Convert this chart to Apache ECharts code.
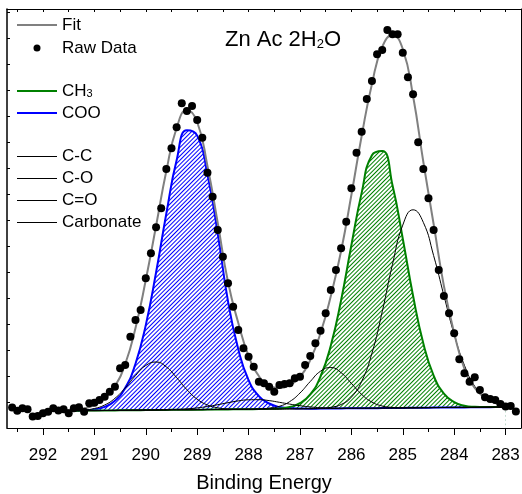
<!DOCTYPE html>
<html><head><meta charset="utf-8">
<script src="https://cdn.jsdelivr.net/npm/echarts@6/dist/echarts.min.js"></script>
<style>html,body{margin:0;padding:0;background:#fff}#c{width:522px;height:494px}</style>
</head><body><div id="c"></div>
<script>
// ---- data (binding energy in eV, intensity in a.u.) ----
const fitEnergy = [292.0,291.8,291.6,291.4,291.2,291.0,290.8,290.6,290.4,290.2,290.0,289.8,289.6,289.4,289.2,289.0,288.8,288.6,288.4,288.2,288.0,287.8,287.6,287.4,287.2,287.0,286.8,286.6,286.4,286.2,286.0,285.8,285.6,285.4,285.2,285.0,284.8,284.6,284.4,284.2,284.0,283.8,283.6,283.4,283.2,283.0];
const background = [17.0,17.1,17.2,17.3,17.4,17.4,17.5,17.6,17.7,17.8,17.9,18.0,18.1,18.2,18.2,18.3,18.4,18.5,18.6,18.7,18.8,18.9,19.0,19.0,19.1,19.2,19.3,19.4,19.5,19.6,19.7,19.8,19.8,19.9,20.0,20.1,20.2,20.3,20.4,20.5,20.6,20.6,20.7,20.8,20.9,21.0];
const peakCOO = [0,0,0,0.1,0.4,1.2,3.6,9.6,22.5,46.5,85,137.5,196.4,249.5,279.5,274,235,176,108,60,29,13,5.5,2,0.8,0.3,0,0,0,0,0,0,0,0,0,0,0,0,0,0,0,0,0,0,0,0];
const peakCH3 = [0,0,0,0,0,0,0,0,0,0,0,0,0,0,0,0,0,0,0,0,0,0,0.2,0.6,1.9,5.6,14.3,32.1,62.9,108.2,163.1,215.3,253.0,257.0,222.8,169.2,112.0,64.3,32.0,13.8,5.2,1.7,0.5,0.1,0,0];
const peakCC = [0,0,0,0,0,0,0,0,0,0,0,0,0,0,0,0,0,0,0,0,0,0,0,0,0,0,0,0.3,1.2,3.9,11.1,26.8,55.0,96.4,143.7,182.8,198.0,185.3,152.0,112.0,73.0,42.0,21.0,9.5,3.8,1.3];
const peakCO = [0,0,0,0,0,0,0,0,0,0,0,0,0,0,0,0,0,0,0,0,0,0.2,0.8,2.7,7.3,15.8,27.2,37.4,41.0,35.7,24.9,13.8,6.1,2.1,0.6,0.1,0,0,0,0,0,0,0,0,0,0];
const peakCdO = [0,0,0,0,0,0,0,0,0,0,0,0.1,0.2,0.4,0.9,1.8,3.1,4.8,6.7,8.4,9.4,9.4,8.4,6.7,4.8,3.1,1.8,0.9,0.4,0.2,0.1,0,0,0,0,0,0,0,0,0,0,0,0,0,0,0];
const peakCarbonate = [0,0,0,0.2,0.6,2.1,5.5,12.1,22.4,34.6,44.6,48.0,43.0,32.2,20.1,10.5,4.6,1.7,0.5,0.1,0,0,0,0,0,0,0,0,0,0,0,0,0,0,0,0,0,0,0,0,0,0,0,0,0,0];
const fitValues = [17.5,17.6,17.8,18.2,19.5,23,30,42,64,100,148,202,257,300,318,306,262,205,146,105,72,52,42,40,43,51,68,95,132,177,233,292,344,381,393,379,332,266,204,142,95,59,40,30,25,22];
const rawEnergy = [292.6,292.5,292.4,292.3,292.2,292.1,292.0,291.9,291.8,291.7,291.6,291.5,291.4,291.3,291.2,291.1,291.0,290.9,290.8,290.7,290.6,290.5,290.4,290.3,290.2,290.1,290.0,289.9,289.8,289.7,289.6,289.5,289.4,289.3,289.2,289.1,289.0,288.9,288.8,288.7,288.6,288.5,288.4,288.3,288.2,288.1,288.0,287.9,287.8,287.7,287.6,287.5,287.4,287.3,287.2,287.1,287.0,286.9,286.8,286.7,286.6,286.5,286.4,286.3,286.2,286.1,286.0,285.9,285.8,285.7,285.6,285.5,285.4,285.3,285.2,285.1,285.0,284.9,284.8,284.7,284.6,284.5,284.4,284.3,284.2,284.1,284.0,283.9,283.8,283.7,283.6,283.5,283.4,283.3,283.2,283.1,283.0,282.9,282.8];
const rawCounts = [20.5,17.3,19.7,18.7,11.5,12.0,14.7,16.3,19.7,17.5,18.7,14.7,19.7,20.7,16.3,24.7,25.3,28.0,31.3,36.3,41.3,59.7,63.0,91.3,108.0,118.0,149.7,174.7,200.7,219.7,259.0,279.7,300.7,324.7,317.0,322.0,308.0,290.3,255.3,231.3,198.0,171.3,144.7,121.3,98.0,79.7,71.3,61.3,46.3,44.7,41.3,36.3,43.0,44.0,44.7,49.7,51.3,63.0,72.0,84.7,97.3,114.7,138.0,158.0,179.7,206.3,239.7,275.3,296.3,329.0,347.0,373.7,378.0,398.0,393.7,393.7,375.3,350.7,333.7,285.7,259.0,229.7,198.0,158.0,132.0,114.7,94.7,68.7,54.7,46.3,50.7,38.0,30.7,29.0,28.0,24.0,21.5,22.0,16.5];
const majorTicks = [292,291,290,289,288,287,286,285,284,283];
const minorTicks = [292.5,291.5,290.5,289.5,288.5,287.5,286.5,285.5,284.5,283.5];
const topTicks = [292.5,292,291.5,291,290.5,290,289.5,289,288.5,288,287.5,287,286.5,286,285.5,285,284.5,284,283.5,283];

// ---- helpers ----
const FONT = 'Liberation Sans, Arial, sans-serif';
function pairs(xs, ys) { return xs.map((x, i) => [x, ys[i]]); }
function onBackground(peak) { return fitEnergy.map((x, i) => [x, Math.round((background[i] + peak[i]) * 100) / 100]); }
function hatchDecal(color) {
  return { symbol: 'rect', symbolSize: 1, dashArrayX: [1, 0], dashArrayY: [1, 2],
    rotation: -Math.PI / 4, color: color, backgroundColor: 'rgba(255,255,255,0)' };
}
const cooData = onBackground(peakCOO);
const ch3Data = onBackground(peakCH3);
const lineIcon2 = 'path://M0 0H40V2H0Z';
const lineIcon1 = 'path://M0 0H40V1H0Z';

function compLine(name, peak) {
  return { name, type: 'line', data: onBackground(peak), smooth: true, symbol: 'none',
    lineStyle: { color: '#000', width: 1 }, itemStyle: { color: '#000' }, z: 4 };
}
function fillSeries(name, data, color) {
  return { name, type: 'line', data, smooth: true, symbol: 'none', silent: true,
    lineStyle: { width: 0, opacity: 0 }, itemStyle: { color: '#ffffff', decal: hatchDecal(color) },
    areaStyle: { color: '#ffffff', opacity: 1 }, z: 1 };
}

const chart = echarts.init(document.getElementById('c'), null, { renderer: 'canvas' });
const legendText = {
  fontSize: 17, fontFamily: FONT, color: '#000', fontWeight: 'normal',
  rich: {
    a: { fontSize: 17, fontFamily: FONT, color: '#000', lineHeight: 17 },
    r: { fontSize: 17, fontFamily: FONT, color: '#000', lineHeight: 17, padding: [0, 0, 0, 16.5] },
    s: { fontSize: 11, fontFamily: FONT, color: '#000', lineHeight: 11, verticalAlign: 'bottom' }
  }
};
const legendBase = { orient: 'vertical', left: 17, itemWidth: 40, itemGap: 5, padding: 0,
  selectedMode: false, symbolKeepAspect: false, textStyle: legendText,
  formatter: n => n === 'CH3' ? '{a|CH}{s|3}' : '{a|' + n + '}' };

chart.setOption({
  animation: false,
  backgroundColor: '#fff',
  title: {
    text: '{a|Zn Ac 2H}{s|2}{a|O}', left: 225, top: 29, padding: 0,
    textStyle: { fontWeight: 'normal', rich: {
      a: { fontSize: 22, fontFamily: FONT, color: '#000', fontWeight: 'normal', lineHeight: 22 },
      s: { fontSize: 13, fontFamily: FONT, color: '#000', fontWeight: 'normal', lineHeight: 15, verticalAlign: 'bottom' }
    } }
  },
  legend: [
    Object.assign({}, legendBase, { top: 16.5, itemHeight: 2, data: [{ name: 'Fit', icon: lineIcon2 }] }),
    Object.assign({}, legendBase, { top: 39.5, left: 33.5, itemWidth: 7, itemHeight: 7, symbolKeepAspect: true,
      data: [{ name: 'Raw Data', icon: 'circle' }], formatter: n => '{r|' + n + '}' }),
    Object.assign({}, legendBase, { top: 82.5, itemHeight: 2, data: [{ name: 'CH3', icon: lineIcon2 }, { name: 'COO', icon: lineIcon2 }] }),
    Object.assign({}, legendBase, { top: 148, itemHeight: 1, data: ['C-C', 'C-O', 'C=O', 'Carbonate'].map(n => ({ name: n, icon: lineIcon1 })) })
  ],
  grid: { left: 7, right: 1, top: 9, bottom: 66, outerBoundsMode: 'none', containLabel: false },
  xAxis: [
    { type: 'value', min: 282.7, max: 292.7, inverse: true, position: 'bottom', z: 10,
      axisLine: { show: true, lineStyle: { color: '#000', width: 1 } },
      axisTick: { show: true, length: 7, customValues: majorTicks, lineStyle: { color: '#000' } },
      axisLabel: { customValues: majorTicks, fontSize: 17, fontFamily: FONT, color: '#000', margin: 19 },
      splitLine: { show: false },
      name: 'Binding Energy', nameLocation: 'middle', nameGap: 45,
      nameTextStyle: { fontSize: 20, fontFamily: FONT, color: '#000' } },
    { type: 'value', min: 282.7, max: 292.7, inverse: true, position: 'bottom', z: 10,
      axisLine: { show: false }, axisLabel: { show: false }, splitLine: { show: false },
      axisTick: { show: true, length: 4, customValues: minorTicks, lineStyle: { color: '#000' } } },
    { type: 'value', min: 282.7, max: 292.7, inverse: true, position: 'top', z: 10,
      axisLine: { show: true, lineStyle: { color: '#000', width: 1 } }, axisLabel: { show: false }, splitLine: { show: false },
      axisTick: { show: true, inside: true, length: 3, customValues: topTicks, lineStyle: { color: '#000' } } }
  ],
  yAxis: [
    { type: 'value', min: 0, max: 419, interval: 26, position: 'left', z: 10,
      axisLine: { show: true, lineStyle: { color: '#000', width: 1.5 } },
      axisTick: { show: true, inside: true, length: 3, lineStyle: { color: '#000' } },
      axisLabel: { show: false }, splitLine: { show: false } },
    { type: 'value', min: 0, max: 419, position: 'right', z: 10,
      axisLine: { show: true, lineStyle: { color: '#000', width: 1 } },
      axisTick: { show: false }, axisLabel: { show: false }, splitLine: { show: false } }
  ],
  series: [
    fillSeries('COO fill', cooData, '#0000ff'),
    fillSeries('CH3 fill', ch3Data, '#008000'),
    { name: 'baseline mask', type: 'line', data: pairs(fitEnergy, background), symbol: 'none', silent: true,
      lineStyle: { width: 0, opacity: 0 }, areaStyle: { color: '#fff', opacity: 1 }, z: 1 },
    { name: 'COO', type: 'line', data: cooData, smooth: true, symbol: 'none',
      lineStyle: { color: '#0000ff', width: 2 }, itemStyle: { color: '#0000ff' }, z: 3 },
    { name: 'CH3', type: 'line', data: ch3Data, smooth: true, symbol: 'none',
      lineStyle: { color: '#008000', width: 2 }, itemStyle: { color: '#008000' }, z: 3 },
    compLine('C-C', peakCC),
    compLine('C-O', peakCO),
    compLine('C=O', peakCdO),
    compLine('Carbonate', peakCarbonate),
    { name: 'Fit', type: 'line', data: pairs(fitEnergy, fitValues), smooth: true, symbol: 'none',
      lineStyle: { color: '#808080', width: 2 }, itemStyle: { color: '#808080' }, z: 5 },
    { name: 'Raw Data', type: 'scatter', data: pairs(rawEnergy, rawCounts), symbol: 'circle', symbolSize: 8,
      itemStyle: { color: '#000', opacity: 1 }, z: 6 }
  ]
});
</script></body></html>
